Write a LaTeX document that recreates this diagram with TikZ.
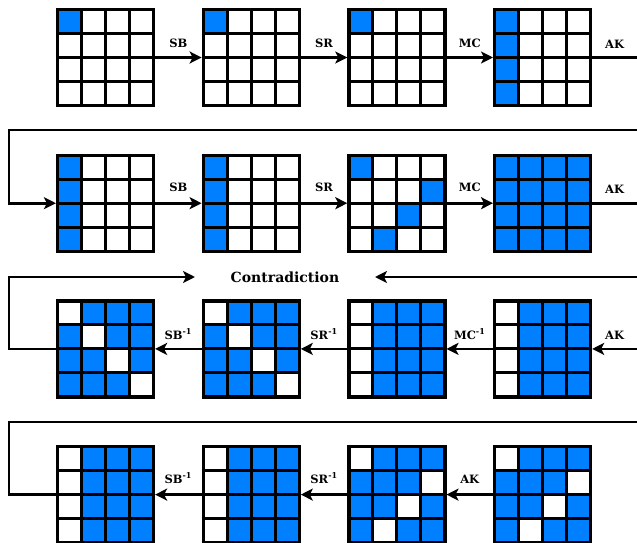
\documentclass[tikz,border=0pt]{standalone}
\usepackage{fontspec}
\setmainfont{DejaVu Serif}
\usepackage{tikz}
\usetikzlibrary{arrows.meta,positioning}
\definecolor{aesBlue}{HTML}{007FFF}

% one 4x4 state: name, centre, background, colour of listed cells, cells (row/col)
\newcommand{\aesstate}[5]{%
  \begin{scope}[shift={#2}]
    \fill[#3] (-48,-48) rectangle (48,48);
    \foreach \r/\c in {#5}
      \fill[#4] (\c*24-48,48-\r*24) rectangle ++(24,-24);
    \draw[line width=3pt] (-48,-48) grid[step=24pt] (48,48);
    \node[state] (#1) at (0,0) {};
  \end{scope}}

\begin{document}
\begin{tikzpicture}[x=1pt, y=1pt, >={Stealth[length=12pt,width=12pt,inset=3pt]},
  state/.style={rectangle,draw,line width=3.2pt,minimum size=96pt,inner sep=0pt},
  flow/.style={line width=2.8pt},
  lbl/.style={font=\bfseries\fontsize{11.5}{13}\selectfont,inner sep=0pt},
  bigtxt/.style={font=\bfseries\fontsize{14}{16}\selectfont,inner sep=0pt}]
\useasboundingbox (0,0) rectangle (637,-543);
% --- round r: forward ---
\aesstate{g11}{(105.5,-57.5)}{white}{aesBlue}{0/0}
\aesstate{g12}{(251.2,-57.5)}{white}{aesBlue}{0/0}
\aesstate{g13}{(396.9,-57.5)}{white}{aesBlue}{0/0}
\aesstate{g14}{(542.6,-57.5)}{white}{aesBlue}{0/0,1/0,2/0,3/0}
\coordinate (e1) at (637,-57.5);
\draw[flow,->] (g11) -- (g12) node[lbl,midway,above=8pt] {SB};
\draw[flow,->] (g12) -- (g13) node[lbl,midway,above=8pt] {SR};
\draw[flow,->] (g13) -- (g14) node[lbl,midway,above=8pt] {MC};
\draw[flow] (g14) -- (e1) node[lbl,midway,above=8pt] {AK};
% --- round r+1: forward ---
\coordinate (t1) at (637,-130);
\coordinate (w1) at (9,-130);
\aesstate{g21}{(105.5,-203.2)}{white}{aesBlue}{0/0,1/0,2/0,3/0}
\aesstate{g22}{(251.2,-203.2)}{white}{aesBlue}{0/0,1/0,2/0,3/0}
\aesstate{g23}{(396.9,-203.2)}{white}{aesBlue}{0/0,1/3,2/2,3/1}
\aesstate{g24}{(542.6,-203.2)}{aesBlue}{aesBlue}{0/0}
\coordinate (e2) at (637,-203.2);
\draw[flow,->] (t1) -- (w1) |- (g21);
\draw[flow,->] (g21) -- (g22) node[lbl,midway,above=10pt] {SB};
\draw[flow,->] (g22) -- (g23) node[lbl,midway,above=10pt] {SR};
\draw[flow,->] (g23) -- (g24) node[lbl,midway,above=10pt] {MC};
\draw[flow] (g24) -- (e2) node[lbl,midway,above=8pt] {AK};
% --- contradiction ---
\node[bigtxt] (contra) at (285,-277) {Contradiction};
\coordinate (ca) at (195,-277);
\coordinate (cb) at (375,-277);
\coordinate (w3) at (9,-277);
\coordinate (e3) at (637,-277);
\draw[flow,->] (e3) -- (cb);
% --- round r+2: backward ---
\aesstate{g31}{(105.5,-348.9)}{aesBlue}{white}{0/0,1/1,2/2,3/3}
\aesstate{g32}{(251.2,-348.9)}{aesBlue}{white}{0/0,1/1,2/2,3/3}
\aesstate{g33}{(396.9,-348.9)}{aesBlue}{white}{0/0,1/0,2/0,3/0}
\aesstate{g34}{(542.6,-348.9)}{aesBlue}{white}{0/0,1/0,2/0,3/0}
\coordinate (e4) at (637,-348.9);
\draw[flow,->] (e4) -- (g34) node[lbl,midway,above=8pt] {AK};
\draw[flow,->] (g34) -- (g33) node[lbl,midway,above=8pt] {MC\textsuperscript{-1}};
\draw[flow,->] (g33) -- (g32) node[lbl,midway,above=8pt] {SR\textsuperscript{-1}};
\draw[flow,->] (g32) -- (g31) node[lbl,midway,above=8pt] {SB\textsuperscript{-1}};
\draw[flow,->] (g31) -| (w3) -- (ca);
% --- round r+3: backward ---
\coordinate (w4) at (9,-422);
\coordinate (e5) at (637,-422);
\aesstate{g41}{(105.5,-494.6)}{aesBlue}{white}{0/0,1/0,2/0,3/0}
\aesstate{g42}{(251.2,-494.6)}{aesBlue}{white}{0/0,1/0,2/0,3/0}
\aesstate{g43}{(396.9,-494.6)}{aesBlue}{white}{0/0,1/3,2/2,3/1}
\aesstate{g44}{(542.6,-494.6)}{aesBlue}{white}{0/0,1/3,2/2,3/1}
\draw[flow,->] (g44) -- (g43) node[lbl,midway,above=10pt] {AK};
\draw[flow,->] (g43) -- (g42) node[lbl,midway,above=10pt] {SR\textsuperscript{-1}};
\draw[flow,->] (g42) -- (g41) node[lbl,midway,above=10pt] {SB\textsuperscript{-1}};
\draw[flow] (g41) -| (w4) -- (e5);
\end{tikzpicture}
\end{document}
